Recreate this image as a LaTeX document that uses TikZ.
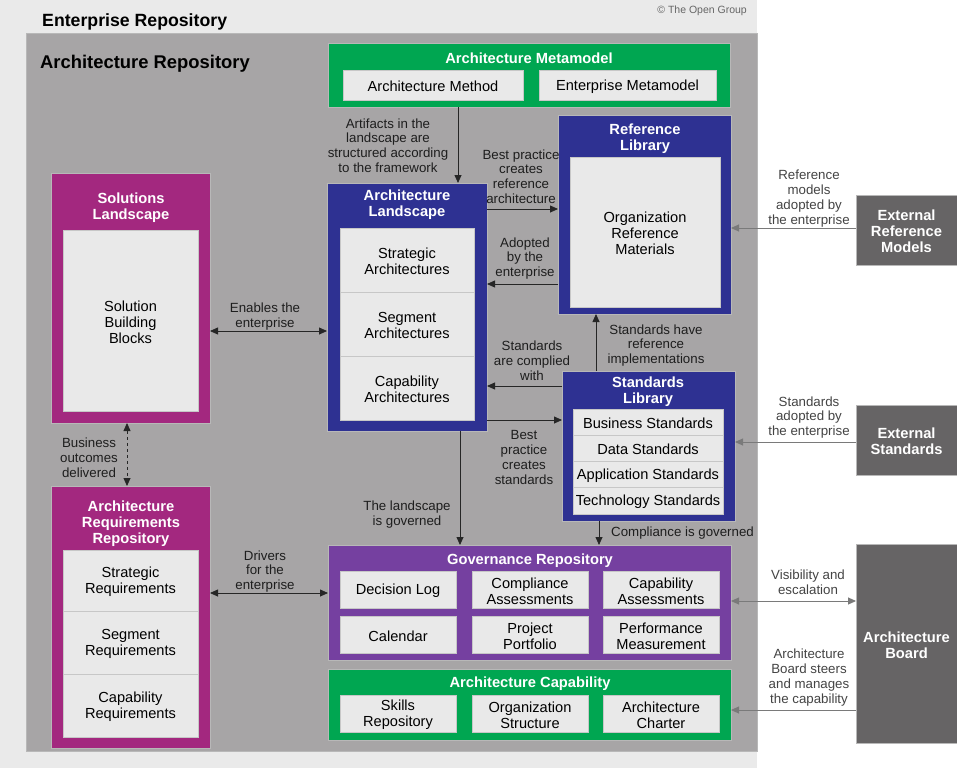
\documentclass[tikz,border=0pt]{standalone}
\usepackage{fontspec}
\setmainfont{Liberation Sans}
\usetikzlibrary{arrows.meta,fit}
\definecolor{bglight}{HTML}{EAEAEA}
\definecolor{repgray}{HTML}{A7A5A6}
\definecolor{tgreen}{HTML}{00A651}
\definecolor{tblue}{HTML}{2E3192}
\definecolor{tmag}{HTML}{A3287F}
\definecolor{tpurple}{HTML}{7540A0}
\definecolor{extgray}{HTML}{666465}
\definecolor{innerfill}{HTML}{E9E9E9}
\definecolor{lbldark}{HTML}{1E1E1E}
\definecolor{lblout}{HTML}{444444}
\definecolor{arrout}{HTML}{7A7A7A}
\newcommand\bx[6]{\node[#2,fit={(#3,#4) (#5,#6)}] (#1) {};}
\begin{document}
\begin{tikzpicture}[x=1pt,y=-1pt,
  panel/.style={inner sep=0pt,outer sep=0pt,fill=#1,draw=white!72!black,line width=0.5pt},
  cell/.style={inner sep=0pt,outer sep=0pt,fill=innerfill,draw=white!78!black,line width=0.7pt},
  ttl/.style={text=white,font=\bfseries\fontsize{14.7}{16}\selectfont,align=center,inner sep=0pt,yshift=-1.5pt},
  txt/.style={text=black,font=\fontsize{14.6}{16}\selectfont,align=center,inner sep=0pt,yshift=-1.5pt},
  lbl/.style={text=lbldark,font=\fontsize{13.3}{14.8}\selectfont,align=center,inner sep=0pt,yshift=-1.5pt},
  olbl/.style={lbl,text=lblout},
  tip/.tip={Triangle[length=8pt,width=7pt]},
  arr/.style={-tip,line width=0.8pt,draw=black!85},
  darr/.style={tip-tip,line width=0.8pt,draw=black!85},
  oarr/.style={-tip,line width=0.9pt,draw=arrout},
  odarr/.style={tip-tip,line width=0.9pt,draw=arrout}]
% backgrounds
\path[use as bounding box,fill=white] (0,0) rectangle (957,768);
\fill[bglight] (0,0) rectangle (757,768);
\bx{repo}{panel=repgray}{26}{33}{757}{751}
\node[anchor=west,font=\bfseries\fontsize{17.7}{20}\selectfont,inner sep=0pt,yshift=-2pt] (tEnt) at (42,20) {Enterprise Repository};
\node[anchor=east,font=\fontsize{10.5}{12}\selectfont,text=black!60,inner sep=0pt,yshift=-1pt] (tCopy) at (747,10) {© The Open Group};
\node[anchor=west,font=\bfseries\fontsize{18.4}{20}\selectfont,inner sep=0pt,yshift=-2pt] (tRep) at (40,62) {Architecture Repository};

% Architecture Metamodel
\bx{am}{panel=tgreen}{328}{43}{730}{107}
\node[ttl] (tam) at (529,57) {Architecture Metamodel};
\bx{amm}{cell}{343}{70}{523}{100}
\node[txt] at (amm.center) {Architecture Method};
\bx{aem}{cell}{539}{70}{716}{100}
\node[txt] at (aem.center) {Enterprise Metamodel};

% Reference Library
\bx{rl}{panel=tblue}{558}{115}{731}{314}
\node[ttl] (trl) at (645,137) {Reference\\Library};
\bx{rli}{cell}{570}{157}{720}{307}
\node[txt] at (rli.center) {Organization\\Reference\\Materials};

% Architecture Landscape
\bx{al}{panel=tblue}{327}{183}{487}{431}
\node[ttl] (tal) at (407,203) {Architecture\\Landscape};
\bx{al1}{cell}{340}{228}{474}{292}
\node[txt] at (al1.center) {Strategic\\Architectures};
\bx{al2}{cell}{340}{292}{474}{356}
\node[txt] at (al2.center) {Segment\\Architectures};
\bx{al3}{cell}{340}{356}{474}{420}
\node[txt] at (al3.center) {Capability\\Architectures};

% Solutions Landscape
\bx{sol}{panel=tmag}{51}{173}{210}{423}
\node[ttl] (tsol) at (131,206) {Solutions\\Landscape};
\bx{soli}{cell}{63}{230}{198}{411}
\node[txt] at (soli.center) {Solution\\Building\\Blocks};

% Architecture Requirements Repository
\bx{reqr}{panel=tmag}{51}{486}{210}{748}
\node[ttl] (treq) at (131,522) {Architecture\\Requirements\\Repository};
\bx{rq1}{cell}{63}{550}{198}{611}
\node[txt] at (rq1.center) {Strategic\\Requirements};
\bx{rq2}{cell}{63}{611}{198}{674}
\node[txt] at (rq2.center) {Segment\\Requirements};
\bx{rq3}{cell}{63}{674}{198}{737}
\node[txt] at (rq3.center) {Capability\\Requirements};

% Standards Library
\bx{sl}{panel=tblue}{562}{371}{735}{521}
\node[ttl] (tsl) at (648,390) {Standards\\Library};
\bx{sl1}{cell}{573}{409}{723}{435}
\node[txt] at (sl1.center) {Business Standards};
\bx{sl2}{cell}{573}{435}{723}{461}
\node[txt] at (sl2.center) {Data Standards};
\bx{sl3}{cell}{573}{461}{723}{487}
\node[txt] at (sl3.center) {Application Standards};
\bx{sl4}{cell}{573}{487}{723}{514}
\node[txt] at (sl4.center) {Technology Standards};

% Governance Repository
\bx{gr}{panel=tpurple}{328}{545}{731}{660}
\node[ttl] (tgr) at (530,559) {Governance Repository};
\bx{g1}{cell}{340}{571}{456}{608}
\node[txt] at (g1.center) {Decision Log};
\bx{g2}{cell}{472}{571}{588}{608}
\node[txt] at (g2.center) {Compliance\\Assessments};
\bx{g3}{cell}{603}{571}{719}{608}
\node[txt] at (g3.center) {Capability\\Assessments};
\bx{g4}{cell}{340}{616}{456}{653}
\node[txt] at (g4.center) {Calendar};
\bx{g5}{cell}{472}{616}{588}{653}
\node[txt] at (g5.center) {Project\\Portfolio};
\bx{g6}{cell}{603}{616}{719}{653}
\node[txt] at (g6.center) {Performance\\Measurement};

% Architecture Capability
\bx{ac}{panel=tgreen}{328}{669}{731}{740}
\node[ttl] (tac) at (530,682) {Architecture Capability};
\bx{c1}{cell}{340}{695}{456}{732}
\node[txt] at (c1.center) {Skills\\Repository};
\bx{c2}{cell}{472}{695}{588}{732}
\node[txt] at (c2.center) {Organization\\Structure};
\bx{c3}{cell}{603}{695}{719}{732}
\node[txt] at (c3.center) {Architecture\\Charter};

% External boxes
\bx{erm}{panel=extgray}{856}{195}{957}{265}
\node[ttl] at (erm.center) {External\\Reference\\Models};
\bx{es}{panel=extgray}{856}{405}{957}{475}
\node[ttl] at (es.center) {External\\Standards};
\bx{ab}{panel=extgray}{856}{544}{957}{743}
\node[ttl] at (ab.center) {Architecture\\Board};

% helper coordinates for connector lines
\coordinate (k1) at (458,0);
\coordinate (k2) at (0,209);
\coordinate (k3) at (0,284);
\coordinate (k4) at (596,0);
\coordinate (k5) at (0,386);
\coordinate (k6) at (0,420);
\coordinate (k7) at (460,0);
\coordinate (k8) at (599,0);
\coordinate (k9) at (0,331);
\coordinate (k10) at (127,0);
\coordinate (k11) at (0,593);
\coordinate (k12) at (0,228);
\coordinate (k13) at (0,442);
\coordinate (k14) at (0,601);
\coordinate (k15) at (0,710);

% connectors
\draw[arr] (am.south -| k1) -- (al.north -| k1);
\draw[arr] (al.east |- k2) -- (rl.west |- k2);
\draw[arr] (rl.west |- k3) -- (al.east |- k3);
\draw[arr] (sl.north -| k4) -- (rl.south -| k4);
\draw[arr] (sl.west |- k5) -- (al.east |- k5);
\draw[arr] (al.east |- k6) -- (sl.west |- k6);
\draw[arr] (al.south -| k7) -- (gr.north -| k7);
\draw[arr] (sl.south -| k8) -- (gr.north -| k8);
\draw[darr] (sol.east |- k9) -- (al.west |- k9);
\draw[darr,dashed,dash pattern=on 3pt off 3pt] (sol.south -| k10) -- (reqr.north -| k10);
\draw[darr] (reqr.east |- k11) -- (gr.west |- k11);
\draw[oarr] (erm.west |- k12) -- (rl.east |- k12);
\draw[oarr] (es.west |- k13) -- (sl.east |- k13);
\draw[odarr] (gr.east |- k14) -- (ab.west |- k14);
\draw[oarr] (ab.west |- k15) -- (ac.east |- k15);

% connector labels
\node[lbl] (l1) at (388,144) {Artifacts in the\\landscape are\\structured according\\to the framework};
\node[lbl] (l2) at (521,175) {Best practice\\creates\\reference\\architecture};
\node[lbl] (l3) at (525,257) {Adopted\\by the\\enterprise};
\node[lbl] (l4) at (656,344) {Standards have\\reference\\implementations};
\node[lbl] (l5) at (532,359) {Standards\\are complied\\with};
\node[lbl] (l6) at (524,456) {Best\\practice\\creates\\standards};
\node[lbl] (l7) at (407,513) {The landscape\\is governed};
\node[lbl,anchor=west] (l8) at (611,532) {Compliance is governed};
\node[lbl] (l9) at (265,315) {Enables the\\enterprise};
\node[lbl] (l10) at (89,456) {Business\\outcomes\\delivered};
\node[lbl] (l11) at (265,570) {Drivers\\for the\\enterprise};
\node[olbl] (l12) at (809,197) {Reference\\models\\adopted by\\the enterprise};
\node[olbl] (l13) at (809,416) {Standards\\adopted by\\the enterprise};
\node[olbl] (l14) at (808,581) {Visibility and\\escalation};
\node[olbl] (l15) at (809,676) {Architecture\\Board steers\\and manages\\the capability};
\end{tikzpicture}
\end{document}
